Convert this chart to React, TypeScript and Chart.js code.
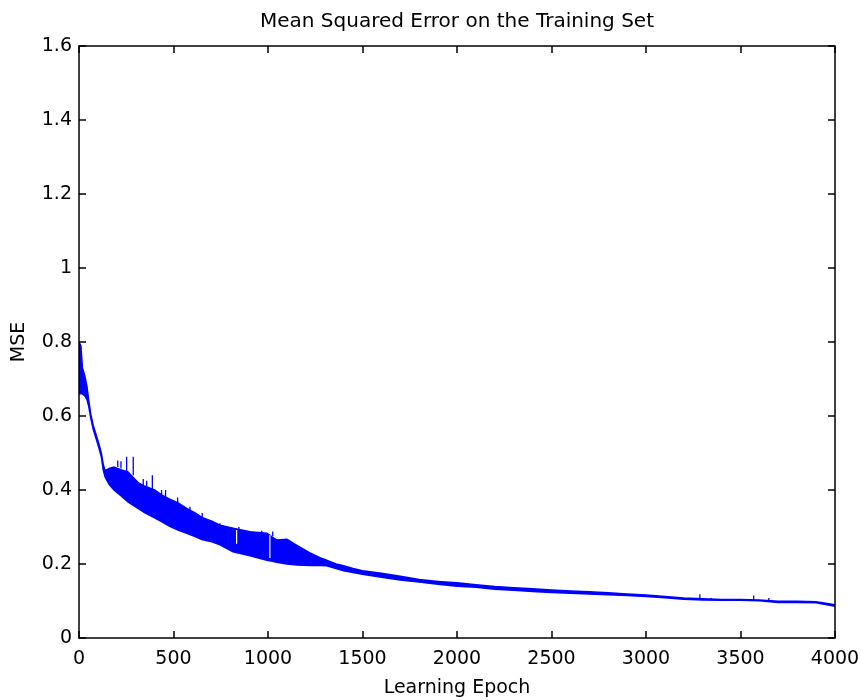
import React, { useEffect, useRef } from "react";
import { Chart, registerables } from "chart.js";

Chart.register(...registerables);

const epochs = [
  0, 10, 18, 30, 42, 52, 62, 75, 90, 105, 118, 128, 138, 160, 185, 220, 259, 312, 349, 400, 439,
  480, 524, 570, 614, 650, 703, 746, 815, 905, 994, 1030, 1046, 1100, 1153, 1222, 1275, 1310, 1360,
  1400, 1450, 1500, 1600, 1700, 1800, 1900, 2000, 2100, 2200, 2300, 2400, 2500, 2600, 2700, 2800,
  2900, 3000, 3100, 3200, 3300, 3400, 3500, 3600, 3700, 3800, 3900, 4000,
];
const upperMSE = [
  0.8, 0.79, 0.73, 0.71, 0.68, 0.64, 0.605, 0.575, 0.55, 0.525, 0.5, 0.47, 0.452, 0.458, 0.462, 0.455,
  0.449, 0.42, 0.41, 0.4, 0.386, 0.375, 0.365, 0.35, 0.338, 0.326, 0.316, 0.305, 0.297, 0.287, 0.283,
  0.27, 0.265, 0.267, 0.25, 0.23, 0.217, 0.21, 0.2, 0.195, 0.188, 0.182, 0.175, 0.167, 0.158, 0.153,
  0.149, 0.144, 0.139, 0.136, 0.133, 0.13, 0.127, 0.125, 0.122, 0.119, 0.116, 0.112, 0.108, 0.106,
  0.104, 0.104, 0.103, 0.099, 0.099, 0.098, 0.09,
];
const lowerMSE = [
  0.66, 0.66, 0.66, 0.655, 0.645, 0.625, 0.595, 0.565, 0.54, 0.515, 0.49, 0.455, 0.435, 0.415, 0.4,
  0.385, 0.368, 0.35, 0.338, 0.325, 0.314, 0.302, 0.292, 0.283, 0.274, 0.266, 0.26, 0.252, 0.233,
  0.222, 0.21, 0.207, 0.205, 0.2, 0.197, 0.196, 0.196, 0.195, 0.188, 0.182, 0.177, 0.172, 0.164,
  0.157, 0.151, 0.145, 0.14, 0.137, 0.132, 0.129, 0.126, 0.123, 0.121, 0.119, 0.117, 0.115, 0.112,
  0.109, 0.105, 0.103, 0.102, 0.102, 0.101, 0.096, 0.096, 0.095, 0.086,
];

const spikeEpochs = [
  205, 222, 252, 287, 340, 358, 388, 437, 458, 522, 587, 652, 746, 846, 967, 1025,
  3058, 3285, 3345, 3570, 3650,
];
const spikeBase = [
  0.462, 0.458, 0.45, 0.44, 0.412, 0.409, 0.403, 0.387, 0.381, 0.365, 0.345, 0.326, 0.305, 0.293,
  0.285, 0.275, 0.111, 0.105, 0.104, 0.103, 0.102,
];
const spikeTop = [
  0.48, 0.478, 0.49, 0.49, 0.43, 0.425, 0.44, 0.4, 0.4, 0.38, 0.355, 0.338, 0.31, 0.3, 0.29, 0.288,
  0.116, 0.118, 0.108, 0.115, 0.108,
];

const gapEpochs = [834, 1010];
const gapTop = [0.292, 0.278];
const gapBottom = [0.255, 0.216];

const xTickValues = [0, 500, 1000, 1500, 2000, 2500, 3000, 3500, 4000];
const yTickLabels = ["0", "0.2", "0.4", "0.6", "0.8", "1", "1.2", "1.4", "1.6"];

const FONT = "'DejaVu Sans', 'Liberation Sans', Arial, sans-serif";
const BLUE = "#0000ff";

const boxPlugin = {
  id: "matlabBox",
  afterDraw(chart: any) {
    const { ctx, chartArea } = chart;
    const { left, right, top, bottom } = chartArea;
    const xs = chart.scales.x;
    const ys = chart.scales.y;
    const len = 7;
    ctx.save();
    ctx.strokeStyle = "#000";
    ctx.lineWidth = 1.5;
    ctx.strokeRect(left, top, right - left, bottom - top);
    ctx.beginPath();
    xs.ticks.forEach((t: any) => {
      const px = Math.round(xs.getPixelForValue(t.value));
      ctx.moveTo(px, bottom);
      ctx.lineTo(px, bottom - len);
      ctx.moveTo(px, top);
      ctx.lineTo(px, top + len);
    });
    ys.ticks.forEach((t: any) => {
      const py = Math.round(ys.getPixelForValue(t.value));
      ctx.moveTo(left, py);
      ctx.lineTo(left + len, py);
      ctx.moveTo(right, py);
      ctx.lineTo(right - len, py);
    });
    ctx.stroke();
    ctx.restore();
  },
};

export default function App() {
  const canvasRef = useRef<HTMLCanvasElement | null>(null);

  useEffect(() => {
    if (!canvasRef.current) return;
    Chart.defaults.color = "#000";
    const upper = epochs.map((e, i) => ({ x: e, y: upperMSE[i] }));
    const lower = epochs.map((e, i) => ({ x: e, y: lowerMSE[i] }));
    const spikes: any[] = [];
    spikeEpochs.forEach((e, i) => {
      spikes.push({ x: e, y: spikeBase[i] });
      spikes.push({ x: e, y: spikeTop[i] });
      spikes.push({ x: e, y: null });
    });
    const gaps: any[] = [];
    gapEpochs.forEach((e, i) => {
      gaps.push({ x: e, y: gapTop[i] });
      gaps.push({ x: e, y: gapBottom[i] });
      gaps.push({ x: e, y: null });
    });

    const chart = new Chart(canvasRef.current, {
      type: "line",
      data: {
        datasets: [
          {
            data: gaps,
            borderColor: "#ffffff",
            borderWidth: 1.2,
            pointRadius: 0,
            tension: 0,
            spanGaps: false,
            fill: false,
            order: -2,
          },
          {
            data: spikes,
            borderColor: BLUE,
            borderWidth: 1.3,
            pointRadius: 0,
            tension: 0,
            spanGaps: false,
            fill: false,
            order: -1,
          },
          {
            data: upper,
            borderColor: BLUE,
            backgroundColor: BLUE,
            borderWidth: 1.5,
            pointRadius: 0,
            tension: 0,
            fill: "+1",
            order: 1,
          },
          {
            data: lower,
            borderColor: BLUE,
            backgroundColor: BLUE,
            borderWidth: 1.5,
            pointRadius: 0,
            tension: 0,
            fill: false,
            order: 2,
          },
        ],
      },
      options: {
        animation: false,
        responsive: true,
        maintainAspectRatio: false,
        layout: { padding: { left: 0, right: 26, top: 0, bottom: 0 } },
        plugins: {
          legend: { display: false },
          tooltip: { enabled: false },
          title: { display: false },
        },
        scales: {
          x: {
            type: "linear",
            min: 0,
            max: 4000,
            afterBuildTicks: (scale: any) => {
              scale.ticks = xTickValues.map((v) => ({ value: v }));
            },
            afterFit: (scale: any) => {
              scale.height = 62;
              scale.paddingLeft = 0;
              scale.paddingRight = 0;
            },
            grid: { display: false, drawTicks: false },
            border: { display: false },
            ticks: {
              padding: 10,
              maxRotation: 0,
              autoSkip: false,
              color: "#000",
              font: { family: FONT, size: 19 },
              callback: (v: any) => String(v),
            },
            title: {
              display: true,
              text: "Learning Epoch",
              color: "#000",
              font: { family: FONT, size: 19 },
              padding: { top: 0, bottom: 1 },
            },
          },
          top: {
            type: "linear",
            position: "top",
            min: 0,
            max: 4000,
            afterFit: (scale: any) => {
              scale.height = 46;
              scale.paddingLeft = 0;
              scale.paddingRight = 0;
            },
            grid: { display: false, drawTicks: false },
            border: { display: false },
            ticks: { display: false },
            title: {
              display: true,
              text: "Mean Squared Error on the Training Set",
              color: "#000",
              font: { family: FONT, size: 20 },
              padding: { top: 10, bottom: 0 },
            },
          },
          y: {
            type: "linear",
            min: 0,
            max: 1.6,
            afterBuildTicks: (scale: any) => {
              scale.ticks = yTickLabels.map((_, i) => ({ value: i * 0.2 }));
            },
            afterFit: (scale: any) => {
              scale.width = 79;
            },
            grid: { display: false, drawTicks: false },
            border: { display: false },
            ticks: {
              padding: 7,
              autoSkip: false,
              color: "#000",
              font: { family: FONT, size: 19 },
              callback: (_v: any, i: number) => yTickLabels[i],
            },
            title: {
              display: true,
              text: "MSE",
              color: "#000",
              font: { family: FONT, size: 19 },
              padding: { top: 8, bottom: 0 },
            },
          },
        },
      },
      plugins: [boxPlugin],
    });
    return () => chart.destroy();
  }, []);

  return (
    <div style={{ position: "fixed", left: 0, top: 0, width: 861, height: 700, background: "#fff" }}>
      <canvas ref={canvasRef} />
    </div>
  );
}
